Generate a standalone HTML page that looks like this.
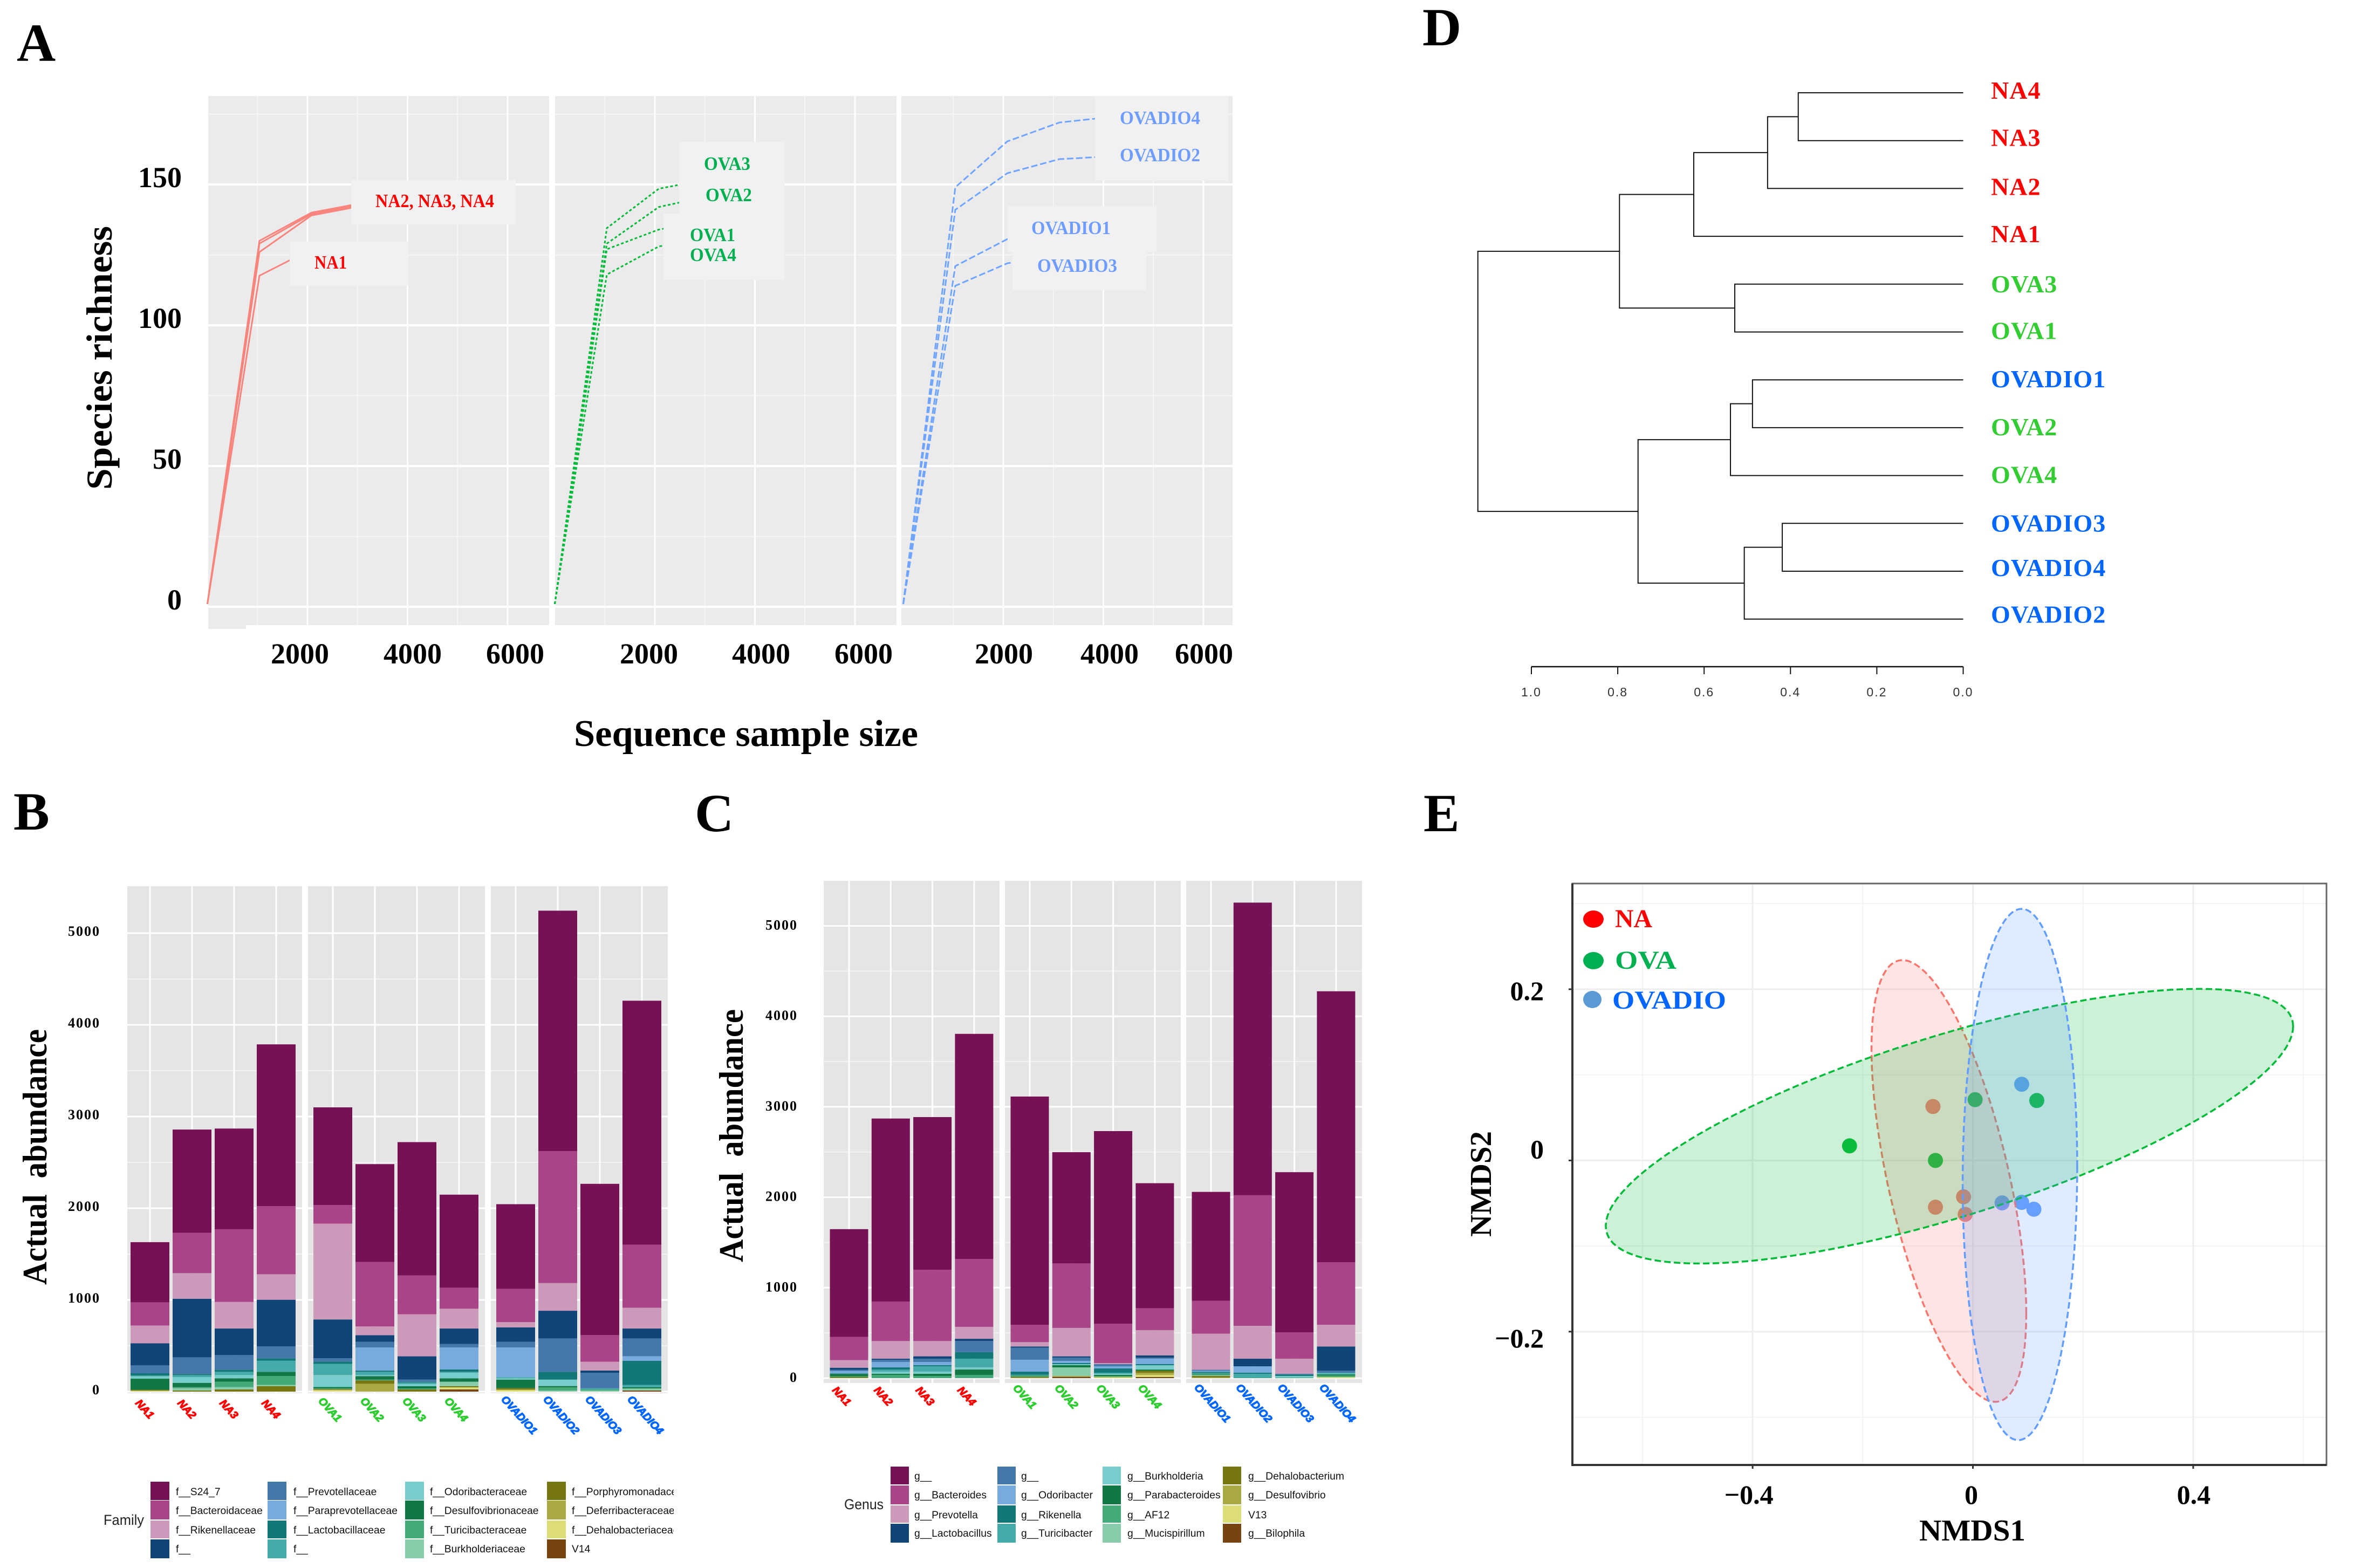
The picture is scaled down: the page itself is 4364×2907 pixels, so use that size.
<!DOCTYPE html>
<html lang="en">
<head>
<meta charset="utf-8">
<title>Gut microbiota diversity figure</title>
<style>
html,body{margin:0;padding:0;background:#fff;}
svg{display:block;}
text{font-family:"Liberation Serif",serif;}
.sans{font-family:"Liberation Sans",sans-serif;}
.b{font-weight:bold;}
.letter{font-size:100px;font-weight:bold;}
</style>
</head>
<body>
<svg id="fig" xmlns="http://www.w3.org/2000/svg" width="4364" height="2907" viewBox="0 0 4364 2907">
  <rect x="0" y="0" width="4364" height="2907" fill="#ffffff"/>
  <text class="letter" x="31" y="113">A</text>
  <text class="letter" x="25" y="1538">B</text>
  <text class="letter" x="1288" y="1541">C</text>
  <text class="letter" x="2637" y="84">D</text>
  <text class="letter" x="2639" y="1541">E</text>

  <g id="panelA"></g>
  <g id="panelAtext">
    <text class="b" font-size="68" transform="translate(207,908) rotate(-90)" textLength="489" lengthAdjust="spacingAndGlyphs">Species richness</text>
    <text class="b" font-size="70" x="1064" y="1383" textLength="638" lengthAdjust="spacingAndGlyphs">Sequence sample size</text>
    <g class="b" font-size="54" text-anchor="middle">
      <text x="556" y="1230">2000</text>
      <text x="765" y="1230">4000</text>
      <text x="955" y="1230">6000</text>
      <text x="1203" y="1230">2000</text>
      <text x="1411" y="1230">4000</text>
      <text x="1601" y="1230">6000</text>
      <text x="1861" y="1230">2000</text>
      <text x="2057" y="1230">4000</text>
      <text x="2232" y="1230">6000</text>
    </g>
    <rect x="651" y="334" width="305" height="82" fill="#f1f1f2"/>
    <rect x="537" y="448" width="220" height="82" fill="#f1f1f2"/>
    <rect x="1259" y="263" width="196" height="134" fill="#f1f1f2"/>
    <rect x="1230" y="396" width="225" height="123" fill="#f1f1f2"/>
    <rect x="2030" y="178" width="247" height="157" fill="#f1f1f2"/>
    <rect x="1868" y="382" width="276" height="85" fill="#f1f1f2"/>
    <rect x="1877" y="467" width="248" height="71" fill="#f1f1f2"/>
    <g class="b" font-size="35">
      <text x="696" y="384" fill="#ff0000" textLength="220" lengthAdjust="spacingAndGlyphs">NA2, NA3, NA4</text>
      <text x="583" y="498" fill="#ff0000" textLength="60" lengthAdjust="spacingAndGlyphs">NA1</text>
      <text x="1305" y="315" fill="#00b050" textLength="86" lengthAdjust="spacingAndGlyphs">OVA3</text>
      <text x="1308" y="373" fill="#00b050" textLength="86" lengthAdjust="spacingAndGlyphs">OVA2</text>
      <text x="1279" y="447" fill="#00b050" textLength="84" lengthAdjust="spacingAndGlyphs">OVA1</text>
      <text x="1279" y="484" fill="#00b050" textLength="86" lengthAdjust="spacingAndGlyphs">OVA4</text>
      <text x="2076" y="230" fill="#6f9dff" textLength="149" lengthAdjust="spacingAndGlyphs">OVADIO4</text>
      <text x="2076" y="299" fill="#6f9dff" textLength="149" lengthAdjust="spacingAndGlyphs">OVADIO2</text>
      <text x="1912" y="434" fill="#6f9dff" textLength="147" lengthAdjust="spacingAndGlyphs">OVADIO1</text>
      <text x="1923" y="504" fill="#6f9dff" textLength="148" lengthAdjust="spacingAndGlyphs">OVADIO3</text>
    </g>
  </g>

  <g id="panelB"></g>
  <text class="b" font-size="64" transform="translate(86,2382) rotate(-90)" textLength="474" lengthAdjust="spacingAndGlyphs" xml:space="preserve">Actual  abundance</text>
  <text class="sans" x="192" y="2827" font-size="27" fill="#222" textLength="75" lengthAdjust="spacingAndGlyphs">Family</text>

  <g id="panelC"></g>
  <text class="b" font-size="64" transform="translate(1377,2340) rotate(-90)" textLength="469" lengthAdjust="spacingAndGlyphs" xml:space="preserve">Actual  abundance</text>
  <text class="sans" x="1565" y="2798" font-size="27" fill="#222" textLength="73" lengthAdjust="spacingAndGlyphs">Genus</text>

  <g id="panelD"></g>

  <g id="panelE"></g>
  <g class="b">
    <text class="b" font-size="56" x="3558" y="2856" textLength="197" lengthAdjust="spacingAndGlyphs">NMDS1</text>
    <text class="b" font-size="56" transform="translate(2764,2293) rotate(-90)" textLength="196" lengthAdjust="spacingAndGlyphs">NMDS2</text>
    <ellipse cx="2954" cy="1704" rx="19" ry="16" fill="#ff0000"/>
    <ellipse cx="2954" cy="1781" rx="19" ry="16" fill="#00b050"/>
    <ellipse cx="2952" cy="1853" rx="17" ry="16" fill="#5b9bd5"/>
    <text class="b" font-size="48" x="2994" y="1719" fill="#ff0000" textLength="69" lengthAdjust="spacingAndGlyphs">NA</text>
    <text class="b" font-size="48" x="2994" y="1796" fill="#00b050" textLength="114" lengthAdjust="spacingAndGlyphs">OVA</text>
    <text class="b" font-size="48" x="2989" y="1870" fill="#0066ff" textLength="211" lengthAdjust="spacingAndGlyphs">OVADIO</text>
  </g>
</svg>
<script>
/* ---------- Panel A data ---------- */
const depthSamples = [0, 1040, 2080, 3120, 4160];
const richnessNA1 = [1, 117.6, 127, 129];
const richnessNA2 = [1, 130, 140, 143.5, 145];
const richnessNA3 = [1, 129, 139.5, 143, 144.5];
const richnessNA4 = [1, 126, 139, 142.5, 144];
const richnessOVA3 = [1, 134.5, 148.5, 152];
const richnessOVA2 = [1, 129, 142, 146];
const richnessOVA1 = [1, 127, 134, 137];
const richnessOVA4 = [1, 118, 128, 131];
const richnessOVADIO4 = [1, 149, 165.3, 172, 174];
const richnessOVADIO2 = [1, 141, 154, 159, 160];
const richnessOVADIO1 = [1, 121, 130.6, 133];
const richnessOVADIO3 = [1, 114, 122, 125];
const richnessMajorTicks = [0, 50, 100, 150];
const richnessMinorTicks = [25, 75, 125, 175];
const depthMajorTicks = [2000, 4000, 6000];
const depthMinorTicks = [1000, 3000, 5000];

/* ---------- Panels B and C shared ---------- */
const sampleNames = ['NA1','NA2','NA3','NA4','OVA1','OVA2','OVA3','OVA4','OVADIO1','OVADIO2','OVADIO3','OVADIO4'];
const stackPalette = ['#771155','#AA4488','#CC99BB','#114477','#4477AA','#77AADD','#117777','#44AAAA','#77CCCC','#117744','#44AA77','#88CCAA','#777711','#AAAA44','#DDDD77','#774411'];
const abundanceMajorTicks = [0, 1000, 2000, 3000, 4000, 5000];
const abundanceMinorTicks = [500, 1500, 2500, 3500, 4500];

/* ---------- Panel B data (family) ---------- */
const familyNames = ['f__S24_7','f__Bacteroidaceae','f__Rikenellaceae','f__','f__Prevotellaceae','f__Paraprevotellaceae','f__Lactobacillaceae','f__','f__Odoribacteraceae','f__Desulfovibrionaceae','f__Turicibacteraceae','f__Burkholderiaceae','f__Porphyromonadaceae','f__Deferribacteraceae','f__Dehalobacteriaceae','V14'];
const famS24 = [656,1126,1098,1765,1066,1066,1454,1015,923,2623,1650,2660];
const famBacteroidaceae = [253,440,793,742,202,704,423,229,363,1438,290,688];
const famRikenellaceae = [194,279,290,278,1045,96,459,216,58,302,96,227];
const famBlankNavy = [241,639,290,508,423,72,253,169,157,302,25,108];
const famPrevotellaceae = [86,182,159,131,36,61,25,37,61,364,169,194];
const famParaprevotellaceae = [0,0,0,0,0,253,0,241,325,0,0,49];
const famLactobacillaceae = [24,12,23,26,25,13,8,25,0,85,0,264];
const famBlankTeal = [10,23,36,121,122,36,17,12,12,0,12,26];
const famOdoribacteraceae = [25,61,35,0,131,11,23,59,14,70,0,0];
const famDesulfovibrionaceae = [121,47,37,47,14,38,24,37,92,14,0,12];
const famTuricibacteraceae = [0,12,59,96,8,9,11,0,0,35,12,0];
const famBurkholderiaceae = [0,25,25,14,0,0,0,49,0,12,12,23];
const famPorphyromonadaceae = [8,12,24,59,8,36,24,12,15,0,0,0];
const famDeferribacteraceae = [4,0,0,0,4,86,0,0,8,0,0,0];
const famDehalobacteriaceae = [8,0,0,0,16,0,0,23,16,0,0,0];
const famV14 = [0,0,0,0,0,0,0,24,0,0,0,12];

/* ---------- Panel C data (genus) ---------- */
const genusNames = ['g__','g__Bacteroides','g__Prevotella','g__Lactobacillus','g__','g__Odoribacter','g__Rikenella','g__Turicibacter','g__Burkholderia','g__Parabacteroides','g__AF12','g__Mucispirillum','g__Dehalobacterium','g__Desulfovibrio','V13','g__Bilophila'];
const genBlankPurple = [1192,2023,1689,2488,2523,1230,2129,1382,1204,3235,1770,2995];
const genBacteroides = [256,437,787,751,192,713,435,242,364,1444,292,692];
const genPrevotella = [84,195,169,132,48,314,12,279,398,363,167,240];
const genLactobacillus = [24,12,26,25,14,14,0,25,0,84,0,267];
const genBlankBlue = [12,24,36,122,133,36,24,12,12,0,8,23];
const genOdoribacter = [27,60,36,0,131,24,24,60,11,71,0,0];
const genRikenella = [6,24,12,73,36,12,47,12,12,12,16,0];
const genTuricibacter = [0,23,59,96,0,0,12,0,8,42,0,12];
const genBurkholderia = [0,24,24,24,6,12,12,48,0,0,18,6];
const genParabacteroides = [26,12,24,59,6,24,12,12,6,0,0,12];
const genAF12 = [8,36,24,36,10,0,10,0,12,6,6,18];
const genMucispirillum = [0,0,0,0,0,95,0,0,8,0,0,0];
const genDehalobacterium = [10,0,0,0,8,0,0,23,16,0,0,0];
const genDesulfovibrio = [2,0,0,0,4,10,6,24,8,0,0,0];
const genV13 = [0,0,0,0,0,0,8,24,0,0,0,12];
const genBilophila = [0,0,0,0,2,14,0,12,0,0,0,0];

/* ---------- Panel D data ---------- */
const leafNames = ['NA4','NA3','NA2','NA1','OVA3','OVA1','OVADIO1','OVA2','OVA4','OVADIO3','OVADIO4','OVADIO2'];
const mergeLeft = ['NA4','m0','m1','OVA3','m2','OVADIO1','m5','OVADIO3','m7','m6','m4'];
const mergeRight = ['NA3','NA2','NA1','OVA1','m3','OVA2','OVA4','OVADIO4','OVADIO2','m8','m9'];
const mergeHeights = [0.382,0.453,0.624,0.529,0.796,0.488,0.539,0.419,0.507,0.753,1.124];
const dendroAxisTicks = [1.0,0.8,0.6,0.4,0.2,0.0];

/* ---------- Panel E data ---------- */
const nmdsMajorX = [-0.4, 0, 0.4];
const nmdsMinorX = [-0.6, -0.2, 0.2, 0.6];
const nmdsMajorY = [-0.2, 0, 0.2];
const nmdsMinorY = [-0.3, -0.1, 0.1, 0.3];
const nmdsXTickLabels = ['\u22120.4','0','0.4'];
const nmdsYTickLabels = ['\u22120.2','0','0.2'];
const naPointsX = [-0.0725,-0.068,-0.017,-0.014];
const naPointsY = [0.063,-0.0546,-0.0425,-0.063];
const ovaPointsX = [-0.224,-0.068,0.004,0.116];
const ovaPointsY = [0.017,0,0.071,0.07];
const ovadioPointsX = [0.0886,0.053,0.0884,0.1107];
const ovadioPointsY = [0.089,-0.0496,-0.049,-0.057];
const ellipseGroups = ['na','ova','ovadio'];
const ellipseCenterX = [-0.0436,-0.0426,0.0854];
const ellipseCenterY = [-0.024,0.04,-0.0164];
const ellipseSpreadX = [0.1405,0.624,0.104];
const ellipseSpreadY = [0.258,0.1604,0.3103];
const ellipseCorrelation = [-0.6,0.726,0.03];

/* ---------- helpers ---------- */
const NS = 'http://www.w3.org/2000/svg';
function mk(tag, attrs, parent) {
  const e = document.createElementNS(NS, tag);
  for (const k in attrs) e.setAttribute(k, attrs[k]);
  parent.appendChild(e);
  return e;
}
function groupColor(name, na, ova, dio) {
  if (name.indexOf('OVADIO') === 0) return dio;
  if (name.indexOf('OVA') === 0) return ova;
  return na;
}

/* ---------- Panel A ---------- */
(function () {
  const g = document.getElementById('panelA');
  const facets = [[386,1018,384.5],[1029,1662,1028.5],[1671,2285,1674.5]];
  const xA = function (f, v) { return facets[f][2] + v * 0.09275; };
  const yA = function (v) { return 1125 - v * 5.22; };
  const notch = mk('rect', {x:386,y:1159,width:70,height:7,fill:'#ebebeb'}, g);
  
  
  facets.forEach(function (F, f) {
    const bg = mk('rect', {x:F[0],y:178,width:F[1]-F[0],height:981,fill:'#ebebeb'}, g);
    
    
    richnessMinorTicks.forEach(function (t) {
      const l = mk('line', {x1:F[0],x2:F[1],y1:yA(t),y2:yA(t),stroke:'#f6f6f6','stroke-width':2}, g);
      
      
    });
    depthMinorTicks.forEach(function (t) {
      const l = mk('line', {x1:xA(f,t),x2:xA(f,t),y1:178,y2:1159,stroke:'#f6f6f6','stroke-width':2}, g);
      
      
    });
    richnessMajorTicks.forEach(function (t) {
      const l = mk('line', {x1:F[0],x2:F[1],y1:yA(t),y2:yA(t),stroke:'#ffffff','stroke-width':4}, g);
      
      
    });
    depthMajorTicks.forEach(function (t) {
      const l = mk('line', {x1:xA(f,t),x2:xA(f,t),y1:178,y2:1159,stroke:'#ffffff','stroke-width':3}, g);
      
      
    });
  });
  richnessMajorTicks.forEach(function (t) {
    const tx = mk('text', {x:337,y:yA(t)+5,'text-anchor':'end','font-size':54,'font-weight':'bold'}, g);
    
    
    tx.textContent = String(t);
  });
  const curves = [
    [0,richnessNA1,'#f8857d','none',3,'curve-na1'],
    [0,richnessNA2,'#f8857d','none',3,'curve-na2'],
    [0,richnessNA3,'#f8857d','none',3,'curve-na3'],
    [0,richnessNA4,'#f8857d','none',3,'curve-na4'],
    [1,richnessOVA3,'#00ba38','5 4',3,'curve-ova3'],
    [1,richnessOVA2,'#00ba38','5 4',3,'curve-ova2'],
    [1,richnessOVA1,'#00ba38','5 4',3,'curve-ova1'],
    [1,richnessOVA4,'#00ba38','5 4',3,'curve-ova4'],
    [2,richnessOVADIO4,'#6fa4ff','12 5',3,'curve-ovadio4'],
    [2,richnessOVADIO2,'#6fa4ff','12 5',3,'curve-ovadio2'],
    [2,richnessOVADIO1,'#6fa4ff','12 5',3,'curve-ovadio1'],
    [2,richnessOVADIO3,'#6fa4ff','12 5',3,'curve-ovadio3']
  ];
  curves.forEach(function (c) {
    const pts = c[1].map(function (v, i) { return xA(c[0], depthSamples[i]) + ',' + yA(v); }).join(' ');
    const p = mk('polyline', {points:pts,fill:'none',stroke:c[2],'stroke-width':c[4],'stroke-dasharray':c[3]}, g);
    
    
  });
})();

/* ---------- Panels B and C ---------- */
function drawStack(cfg) {
  const g = document.getElementById(cfg.id);
  const y = function (v) { return cfg.zero - v * cfg.perUnit; };
  cfg.facets.forEach(function (F) {
    const bg = mk('rect', {x:F[0],y:cfg.top,width:F[1]-F[0],height:cfg.bottom-cfg.top,fill:'#e5e5e5'}, g);
    
    
    abundanceMinorTicks.forEach(function (t) {
      const l = mk('line', {x1:F[0],x2:F[1],y1:y(t),y2:y(t),stroke:'#f2f2f2','stroke-width':2}, g);
      
      
    });
    abundanceMajorTicks.forEach(function (t) {
      const l = mk('line', {x1:F[0],x2:F[1],y1:y(t),y2:y(t),stroke:'#ffffff','stroke-width':3}, g);
      
      
    });
  });
  abundanceMajorTicks.forEach(function (t) {
    const tx = mk('text', {x:cfg.tickRight,y:y(t)+cfg.tickDy,'text-anchor':'end','font-size':26,'font-weight':'bold','letter-spacing':'2'}, g);
    
    
    tx.textContent = String(t);
  });
  sampleNames.forEach(function (name, i) {
    const cx = cfg.center(i);
    const v = mk('line', {x1:cx,x2:cx,y1:cfg.top,y2:cfg.bottom,stroke:'#ffffff','stroke-width':3}, g);
    
    
    let acc = 0;
    for (let k = cfg.series.length - 1; k >= 0; k--) {
      const val = cfg.series[k][i];
      if (val > 0) {
        const r = mk('rect', {x:cx-cfg.barW/2,y:y(acc+val),width:cfg.barW,height:val*cfg.perUnit,fill:stackPalette[k]}, g);
        
        
      }
      acc += val;
    }
    const yLab = name.indexOf('OVADIO') === 0 ? cfg.labelY[2] : name.indexOf('OVA') === 0 ? cfg.labelY[1] : cfg.labelY[0];
    const xLab = cx - cfg.labelDx;
    const col = groupColor(name,'#ff0000','#2ecc31','#0066ff');
    const t = mk('text', {transform:'translate(' + xLab + ',' + yLab + ') rotate(48)','font-size':20,'font-weight':'bold','font-style':'italic',style:'font-family:"Liberation Sans",sans-serif',fill:col,stroke:col,'stroke-width':1.2}, g);
    
    
    t.textContent = name;
  });
  cfg.names.forEach(function (nm, k) {
    const c = Math.floor(k / 4), rw = k % 4;
    const sq = mk('rect', {x:cfg.legSwatchX[c],y:cfg.legRowY[rw],width:cfg.legSwatchW,height:cfg.legRowH[rw],fill:stackPalette[k]}, g);
    
    
    const tx = mk('text', {x:cfg.legTextX[c],y:cfg.legBase[rw],'font-size':19.3,style:'font-family:"Liberation Sans",sans-serif',fill:'#111'}, g);
    if (cfg.clip && c === 3) tx.setAttribute('clip-path', 'url(#' + cfg.clip + ')');
    
    
    tx.textContent = nm;
  });
}

(function () {
  const root = document.getElementById('fig');
  const defs = mk('defs', {}, root);
  const cp = mk('clipPath', {id:'legendClipB'}, defs);
  mk('rect', {x:1050,y:2720,width:199,height:180}, cp);
})();

drawStack({
  id:'panelB', top:1643, bottom:2583, zero:2580, perUnit:0.17, barW:72,
  facets:[[236,560],[571,899],[910,1238]], tickRight:186, tickDy:5,
  center:function (i) { return [278,617,956][Math.floor(i/4)] + (i%4)*78; },
  labelDx:28, labelY:[2602,2598,2595],
  series:[famS24,famBacteroidaceae,famRikenellaceae,famBlankNavy,famPrevotellaceae,famParaprevotellaceae,famLactobacillaceae,famBlankTeal,famOdoribacteraceae,famDesulfovibrionaceae,famTuricibacteraceae,famBurkholderiaceae,famPorphyromonadaceae,famDeferribacteraceae,famDehalobacteriaceae,famV14],
  names:familyNames, clip:'legendClipB',
  legSwatchX:[279,496,751,1014], legSwatchW:35, legRowY:[2747,2782,2819,2854], legRowH:[34,35,33,35], legTextX:[326,544,797,1060], legBase:[2772,2807,2843,2878]
});
drawStack({
  id:'panelC', top:1633, bottom:2564, zero:2555, perUnit:0.1677, barW:71,
  facets:[[1527,1853],[1863,2189],[2199,2525]], tickRight:1479, tickDy:7,
  center:function (i) { return [1574,1909,2245][Math.floor(i/4)] + (i%4)*77.3; },
  labelDx:32, labelY:[2578,2574,2573],
  series:[genBlankPurple,genBacteroides,genPrevotella,genLactobacillus,genBlankBlue,genOdoribacter,genRikenella,genTuricibacter,genBurkholderia,genParabacteroides,genAF12,genMucispirillum,genDehalobacterium,genDesulfovibrio,genV13,genBilophila],
  names:genusNames, clip:null,
  legSwatchX:[1651,1849,2044,2267], legSwatchW:34, legRowY:[2719,2754,2791,2825], legRowH:[33,35,32,35], legTextX:[1695,1893,2090,2314], legBase:[2743,2778,2815,2849]
});

/* ---------- Panel D ---------- */
(function () {
  const g = document.getElementById('panelD');
  const xD = function (h) { return 3639.5 - h * 800.5; };
  const yLeaf = function (i) { return 172 + i * 88.7; };
  const labelNudge = [11,10,12,11,15,13,14,14,14,15,9,7];
  const nodes = {};
  leafNames.forEach(function (nm, i) {
    nodes[nm] = {y:yLeaf(i), h:0};
    const t = mk('text', {x:3691,y:yLeaf(i)+labelNudge[i],'font-size':46,'font-weight':'bold','letter-spacing':'1',fill:groupColor(nm,'#ff0000','#33cc33','#0066ff')}, g);
    
    
    t.textContent = nm;
  });
  mergeHeights.forEach(function (h, i) {
    const a = nodes[mergeLeft[i]];
    const b = nodes[mergeRight[i]];
    nodes['m' + i] = {y:(a.y + b.y) / 2, h:h};
    const d = 'M' + xD(a.h) + ' ' + a.y + 'H' + xD(h) + 'V' + b.y + 'H' + xD(b.h);
    const p = mk('path', {d:d,fill:'none',stroke:'#111','stroke-width':2}, g);
    
    
  });
  const ax = mk('line', {x1:xD(1),x2:xD(0),y1:1236,y2:1236,stroke:'#111','stroke-width':2.5}, g);
  
  
  dendroAxisTicks.forEach(function (t) {
    const l = mk('line', {x1:xD(t),x2:xD(t),y1:1236,y2:1250,stroke:'#111','stroke-width':2}, g);
    
    
    const tx = mk('text', {x:xD(t),y:1291,'text-anchor':'middle','font-size':23,'letter-spacing':'2',style:'font-family:"Liberation Sans",sans-serif',fill:'#333'}, g);
    
    
    tx.textContent = t.toFixed(1);
  });
})();

/* ---------- Panel E ---------- */
(function () {
  const g = document.getElementById('panelE');
  const xE = function (v) { return 3657.5 + v * 1021; };
  const yE = function (v) { return 2151.4 - v * 1587; };
  const L = 2915, R = 4313, T = 1638, B = 2716;
  nmdsMinorX.forEach(function (t) {
    const l = mk('line', {x1:xE(t),x2:xE(t),y1:T,y2:B,stroke:'#f3f3f3','stroke-width':2}, g);
    
    
  });
  nmdsMinorY.forEach(function (t) {
    const l = mk('line', {x1:L,x2:R,y1:yE(t),y2:yE(t),stroke:'#f3f3f3','stroke-width':2}, g);
    
    
  });
  nmdsMajorX.forEach(function (t) {
    const l = mk('line', {x1:xE(t),x2:xE(t),y1:T,y2:B,stroke:'#eeeeee','stroke-width':3}, g);
    
    
  });
  nmdsMajorY.forEach(function (t) {
    const l = mk('line', {x1:L,x2:R,y1:yE(t),y2:yE(t),stroke:'#eeeeee','stroke-width':3}, g);
    
    
  });
  const ptSets = [[naPointsX,naPointsY,'#f8766d','nmds-point-na'],[ovaPointsX,ovaPointsY,'#00ba38','nmds-point-ova'],[ovadioPointsX,ovadioPointsY,'#619cff','nmds-point-ovadio']];
  ptSets.forEach(function (S) {
    S[0].forEach(function (vx, i) {
      const c = mk('circle', {cx:xE(vx),cy:yE(S[1][i]),r:14,fill:S[2],'fill-opacity':0.95}, g);
      
      
    });
  });
  const ellColors = ['#f8766d','#00ba38','#619cff'];
  ellipseGroups.forEach(function (nm, k) {
    const r = ellipseCorrelation[k], s = Math.sqrt(1 - r * r);
    let d = '';
    for (let a = 0; a < 180; a++) {
      const th = a * Math.PI / 90;
      const dx = ellipseCenterX[k] + ellipseSpreadX[k] * Math.cos(th);
      const dy = ellipseCenterY[k] + ellipseSpreadY[k] * (r * Math.cos(th) + s * Math.sin(th));
      d += (a ? 'L' : 'M') + xE(dx).toFixed(1) + ' ' + yE(dy).toFixed(1);
    }
    const p = mk('path', {d:d + 'Z',fill:ellColors[k],'fill-opacity':0.2,stroke:ellColors[k],'stroke-width':3.5,'stroke-dasharray':'12 6'}, g);
    
    
  });
  const fr = mk('rect', {x:L,y:T,width:R-L,height:B-T,fill:'none',stroke:'#666','stroke-width':3}, g);
  
  
  const bl = mk('path', {d:'M' + L + ' ' + T + 'V' + B + 'H' + R,fill:'none',stroke:'#333','stroke-width':4}, g);
  
  
  nmdsMajorX.forEach(function (t, i) {
    const tk = mk('line', {x1:xE(t),x2:xE(t),y1:B,y2:B+7,stroke:'#333','stroke-width':3}, g);
    
    
    const tx = mk('text', {x:xE(t)+(i===0?-7:i===2?1:-3),y:2788,'text-anchor':'middle','font-size':50,'font-weight':'bold'}, g);
    
    
    tx.textContent = nmdsXTickLabels[i];
  });
  nmdsMajorY.forEach(function (t, i) {
    const tk = mk('line', {x1:L-7,x2:L,y1:yE(t),y2:yE(t),stroke:'#333','stroke-width':3}, g);
    
    
    const tx = mk('text', {x:2862,y:yE(t)+(i===1?-4:i===2?20:29),'text-anchor':'end','font-size':50,'font-weight':'bold'}, g);
    
    
    tx.textContent = nmdsYTickLabels[i];
  });
})();
</script>
</body>
</html>
